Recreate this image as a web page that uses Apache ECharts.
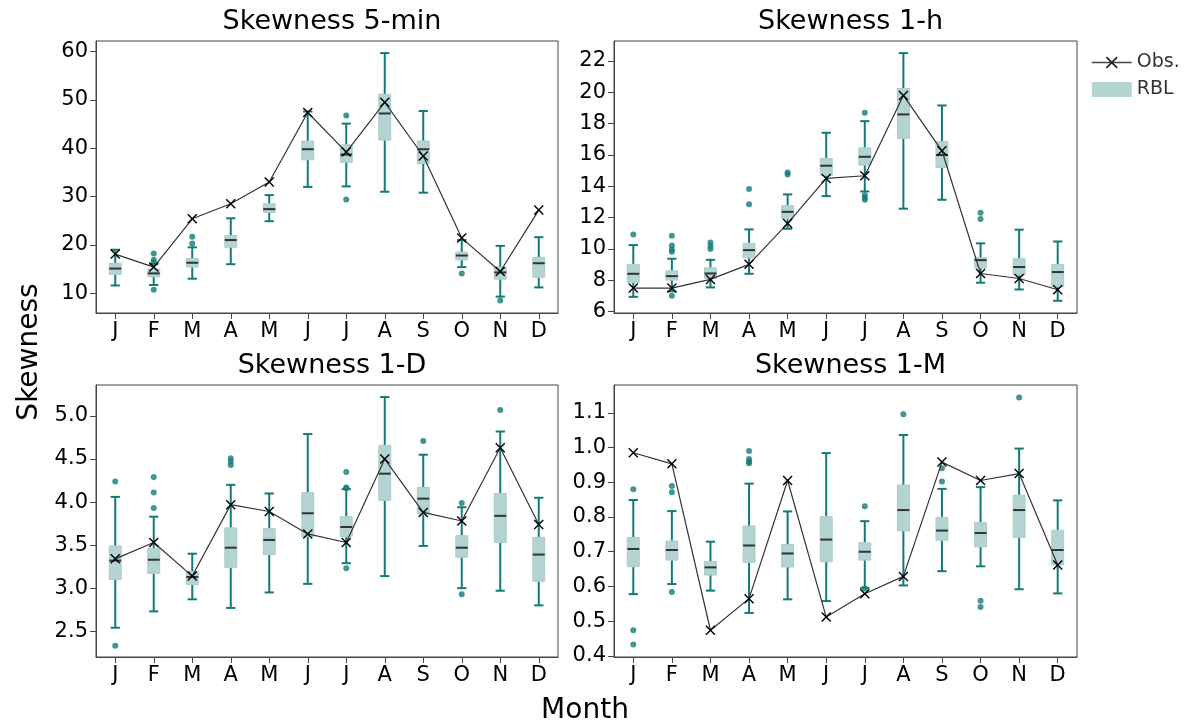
<!DOCTYPE html>
<html>
<head>
<meta charset="utf-8">
<script src="https://cdn.jsdelivr.net/npm/echarts@6/dist/echarts.min.js"></script>
<style>
  html, body { margin: 0; padding: 0; background: #fff; }
  #chart { width: 1193px; height: 727px; }
</style>
</head>
<body>
<div id="chart"></div>
<script>
// month labels
var months = ['J', 'F', 'M', 'A', 'M', 'J', 'J', 'A', 'S', 'O', 'N', 'D'];

// RBL boxes: [min, q1, median, q3, max] per month
var box5min = [
  [11.6, 13.9, 15.1, 16.2, 19.0], [11.7, 13.4, 14.1, 15.0, 16.0], [13.0, 15.4, 16.3, 17.2, 19.5],
  [16.0, 19.5, 21.0, 21.9, 25.5], [24.9, 26.7, 27.4, 28.5, 30.3], [32.0, 37.6, 39.8, 41.5, 47.6],
  [32.1, 37.1, 38.7, 40.7, 45.1], [31.0, 41.7, 47.2, 51.2, 59.7], [30.8, 36.8, 39.8, 41.5, 47.7],
  [15.4, 16.9, 17.8, 18.5, 21.0], [9.3, 12.9, 14.3, 15.4, 19.8], [11.2, 13.3, 16.2, 17.4, 21.6]
];
var box1h = [
  [6.95, 7.87, 8.42, 9.02, 10.25], [7.3, 8.02, 8.27, 8.61, 9.38], [7.55, 8.12, 8.44, 8.80, 9.31],
  [8.42, 9.44, 9.93, 10.36, 11.25], [11.29, 11.93, 12.37, 12.76, 13.48], [13.37, 14.69, 15.31, 15.77, 17.41],
  [13.67, 15.35, 15.88, 16.45, 18.15], [12.57, 17.05, 18.58, 20.24, 22.49], [13.14, 15.2, 15.99, 16.84, 19.15],
  [7.85, 8.80, 9.29, 9.44, 10.36], [7.42, 8.34, 8.85, 9.38, 11.23], [6.70, 7.59, 8.53, 9.02, 10.48]
];
var box1D = [
  [2.54, 3.10, 3.32, 3.49, 4.06], [2.73, 3.17, 3.33, 3.46, 3.83], [2.87, 3.04, 3.13, 3.19, 3.40],
  [2.77, 3.24, 3.47, 3.70, 4.20], [2.95, 3.39, 3.56, 3.69, 4.10], [3.05, 3.60, 3.87, 4.11, 4.79],
  [3.29, 3.60, 3.71, 3.83, 4.15], [3.14, 4.02, 4.33, 4.66, 5.22], [3.49, 3.86, 4.04, 4.17, 4.55],
  [3.00, 3.36, 3.47, 3.61, 3.94], [2.97, 3.53, 3.84, 4.10, 4.82], [2.80, 3.08, 3.39, 3.59, 4.05]
];
var box1M = [
  [0.578, 0.657, 0.708, 0.741, 0.849], [0.607, 0.676, 0.705, 0.731, 0.817], [0.588, 0.633, 0.655, 0.672, 0.729],
  [0.524, 0.669, 0.718, 0.774, 0.896], [0.563, 0.656, 0.695, 0.721, 0.816], [0.558, 0.671, 0.735, 0.801, 0.984],
  [0.596, 0.676, 0.700, 0.726, 0.788], [0.603, 0.760, 0.820, 0.892, 1.036], [0.644, 0.733, 0.761, 0.799, 0.881],
  [0.658, 0.714, 0.754, 0.784, 0.886], [0.592, 0.741, 0.820, 0.863, 0.997], [0.580, 0.662, 0.705, 0.762, 0.848]
];

// observed values
var obs5min = [18.1, 15.4, 25.4, 28.5, 33.0, 47.4, 39.2, 49.5, 38.4, 21.4, 14.5, 27.2];
var obs1h = [7.51, 7.51, 8.06, 9.02, 11.63, 14.5, 14.67, 19.79, 16.26, 8.44, 8.12, 7.40];
var obs1D = [3.34, 3.53, 3.14, 3.97, 3.89, 3.63, 3.53, 4.50, 3.88, 3.78, 4.63, 3.74];
var obs1M = [0.985, 0.953, 0.474, 0.565, 0.905, 0.512, 0.579, 0.629, 0.958, 0.905, 0.925, 0.662];

// outliers: [month index, value]
var out5min = [[1, 18.2], [1, 16.9], [1, 16.4], [1, 10.7], [2, 21.7], [2, 20.3], [6, 46.8], [6, 29.4], [9, 14.1], [10, 8.5]];
var out1h = [[0, 10.93], [1, 10.84], [1, 10.23], [1, 9.97], [1, 9.82], [1, 7.02], [2, 10.42], [2, 10.19], [2, 10.0],
  [3, 13.82], [3, 12.86], [4, 14.88], [4, 14.75], [6, 18.69], [6, 13.44], [6, 13.27], [6, 13.14], [9, 12.31], [9, 11.91]];
var out1D = [[0, 4.24], [0, 2.33], [1, 4.29], [1, 4.11], [1, 3.93], [3, 4.51], [3, 4.47], [3, 4.43],
  [6, 4.35], [6, 4.17], [6, 4.16], [6, 3.23], [8, 4.71], [9, 3.99], [9, 2.93], [10, 5.07]];
var out1M = [[0, 0.880], [0, 0.474], [0, 0.433], [1, 0.889], [1, 0.871], [1, 0.584], [3, 0.990], [3, 0.967],
  [3, 0.959], [3, 0.955], [6, 0.831], [6, 0.594], [7, 1.096], [8, 0.940], [8, 0.902], [9, 0.559], [9, 0.541], [10, 1.144]];

// y tick labels
var ticks5min = [10, 20, 30, 40, 50, 60];
var ticks1h = [6, 8, 10, 12, 14, 16, 18, 20, 22];
var ticks1D = [2.5, 3.0, 3.5, 4.0, 4.5, 5.0];
var ticks1M = [0.4, 0.5, 0.6, 0.7, 0.8, 0.9, 1.0, 1.1];

var titles = ['Skewness 5-min', 'Skewness 1-h', 'Skewness 1-D', 'Skewness 1-M'];

var teal = '#137a78';
var boxFill = '#b4d4d2';
var font = 'DejaVu Sans';

var panels = [
  { box: box5min, obs: obs5min, out: out5min, ticks: ticks5min, min: 5.9, max: 62.2, dec: 0, grid: { left: 96, top: 41, width: 462, height: 272 } },
  { box: box1h, obs: obs1h, out: out1h, ticks: ticks1h, min: 5.92, max: 23.26, dec: 0, grid: { left: 614, top: 41, width: 463, height: 272 } },
  { box: box1D, obs: obs1D, out: out1D, ticks: ticks1D, min: 2.2, max: 5.36, dec: 1, grid: { left: 96, top: 385, width: 462, height: 272 } },
  { box: box1M, obs: obs1M, out: out1M, ticks: ticks1M, min: 0.397, max: 1.18, dec: 1, grid: { left: 614, top: 385, width: 463, height: 272 } }
];

var xMark = 'path://M0,1L1,0L5,4L9,0L10,1L6,5L10,9L9,10L5,6L1,10L0,9L4,5Z';

function renderBox(params, api) {
  var i = api.value(0);
  var pMin = api.coord([i, api.value(1)]);
  var pQ1 = api.coord([i, api.value(2)]);
  var pMed = api.coord([i, api.value(3)]);
  var pQ3 = api.coord([i, api.value(4)]);
  var pMax = api.coord([i, api.value(5)]);
  var band = api.size([1, 0])[0];
  var bw = band * 0.31, cw = band * 0.24;
  var cx = pMin[0];
  var whisker = { stroke: teal, lineWidth: 2 };
  return {
    type: 'group',
    children: [
      { type: 'line', shape: { x1: cx, y1: pQ1[1], x2: cx, y2: pMin[1] }, style: whisker },
      { type: 'line', shape: { x1: cx, y1: pQ3[1], x2: cx, y2: pMax[1] }, style: whisker },
      { type: 'line', shape: { x1: cx - cw / 2, y1: pMin[1], x2: cx + cw / 2, y2: pMin[1] }, style: whisker },
      { type: 'line', shape: { x1: cx - cw / 2, y1: pMax[1], x2: cx + cw / 2, y2: pMax[1] }, style: whisker },
      { type: 'rect', shape: { x: cx - bw / 2, y: pQ3[1], width: bw, height: pQ1[1] - pQ3[1] },
        style: { fill: boxFill, stroke: '#a8cdca', lineWidth: 1 } },
      { type: 'line', shape: { x1: cx - bw / 2, y1: pMed[1], x2: cx + bw / 2, y2: pMed[1] },
        style: { stroke: '#333', lineWidth: 2 } }
    ]
  };
}

var grids = [], xAxes = [], yAxes = [], series = [], titleOpts = [];
panels.forEach(function (p, k) {
  grids.push(Object.assign({ show: true, borderColor: '#444', borderWidth: 1, backgroundColor: 'transparent' }, p.grid));
  titleOpts.push({
    text: titles[k],
    left: p.grid.left + p.grid.width / 2,
    top: p.grid.top - 38,
    textAlign: 'center',
    textStyle: { fontFamily: font, fontSize: 27, fontWeight: 'normal', color: '#000' }
  });
  xAxes.push({
    type: 'category', gridIndex: k, data: months, boundaryGap: true,
    axisLine: { show: true, lineStyle: { color: '#444' } },
    axisTick: { show: true, alignWithLabel: true, length: 6, lineStyle: { color: '#444' } },
    axisLabel: { fontFamily: font, fontSize: 21, color: '#000', margin: 8, interval: 0 },
    splitLine: { show: false }
  });
  yAxes.push({
    type: 'value', gridIndex: k, min: p.min, max: p.max,
    axisLine: { show: true, lineStyle: { color: '#444' } },
    axisTick: { show: true, length: 6, lineStyle: { color: '#444' }, customValues: p.ticks },
    axisLabel: {
      fontFamily: font, fontSize: 21, color: '#000', margin: 8, customValues: p.ticks,
      formatter: (function (d) { return function (v) { return v.toFixed(d); }; })(p.dec)
    },
    splitLine: { show: false }
  });
  series.push({
    name: 'Outliers', type: 'scatter', xAxisIndex: k, yAxisIndex: k,
    data: p.out, symbol: 'circle', symbolSize: 6,
    itemStyle: { color: teal }, z: 2, silent: true
  });
  series.push({
    name: 'RBL', type: 'custom', xAxisIndex: k, yAxisIndex: k,
    data: p.box.map(function (b, i) { return [i].concat(b); }),
    encode: { x: 0, y: [1, 2, 3, 4, 5] },
    renderItem: renderBox, itemStyle: { color: boxFill }, z: 3, silent: true
  });
  series.push({
    name: 'Obs.', type: 'line', xAxisIndex: k, yAxisIndex: k,
    data: p.obs, symbol: xMark, symbolSize: 10, showSymbol: true,
    lineStyle: { color: '#333', width: 1.2 },
    itemStyle: { color: '#000' }, z: 5, silent: true
  });
});

var myChart = echarts.init(document.getElementById('chart'), null, { renderer: 'canvas' });
myChart.setOption({
  animation: false,
  title: titleOpts,
  grid: grids,
  xAxis: xAxes,
  yAxis: yAxes,
  legend: {
    left: 1086, top: 48, orient: 'vertical', itemWidth: 40, itemHeight: 15, itemGap: 8,
    textStyle: { fontFamily: font, fontSize: 19, color: '#333' },
    data: [
      { name: 'Obs.', itemStyle: { color: '#222' }, lineStyle: { color: '#444', width: 1.5 } },
      { name: 'RBL', icon: 'rect', itemStyle: { color: boxFill } }
    ]
  },
  graphic: [
    { type: 'text', x: 30, y: 352, rotation: Math.PI / 2,
      style: { text: 'Skewness', font: '28px "DejaVu Sans"', fill: '#000', textAlign: 'center', textVerticalAlign: 'middle' } },
    { type: 'text', x: 585, y: 711,
      style: { text: 'Month', font: '28px "DejaVu Sans"', fill: '#000', textAlign: 'center', textVerticalAlign: 'middle' } }
  ],
  series: series
});
</script>
</body>
</html>
